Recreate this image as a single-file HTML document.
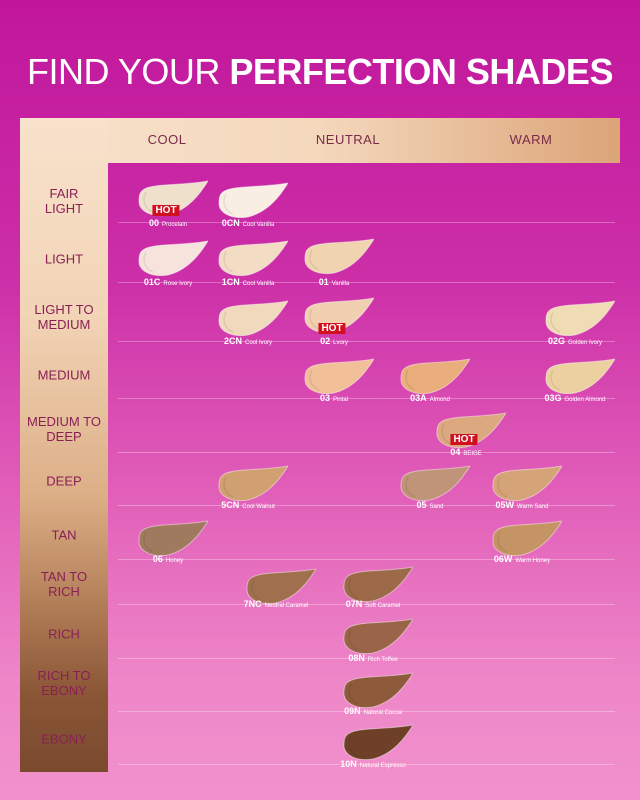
<!DOCTYPE html>
<html><head><meta charset="utf-8"><style>
*{margin:0;padding:0;box-sizing:border-box}
body{width:640px;height:800px;overflow:hidden;position:relative;font-family:"Liberation Sans",sans-serif;
background:linear-gradient(180deg,#c1169c 0%,#cc2fa8 35%,#e05cb8 60%,#ee86c8 85%,#f192cc 100%)}
.title{position:absolute;left:0;width:640px;top:51px;text-align:center;color:#fff;font-size:36px;letter-spacing:-0.5px;white-space:nowrap}
.title b{font-weight:bold}
.top{position:absolute;left:20px;top:118px;width:600px;height:45px;background:linear-gradient(90deg,#f8e2cc 0%,#f4d8bc 50%,#dca478 100%)}
.top span{position:absolute;top:14px;font-size:13px;color:#7a2a4a;letter-spacing:0.5px;transform:translateX(-50%)}
.left{position:absolute;left:20px;top:118px;width:88px;height:654px;background:linear-gradient(180deg,#f8e2cc 0%,#f2d4b6 30%,#dcae86 58%,#b07c56 75%,#8a5636 88%,#7a4a2e 100%)}
.rl{position:absolute;left:20px;width:88px;text-align:center;font-size:13px;line-height:15px;color:#8a1f55;transform:translateY(-50%)}
.line{position:absolute;left:118px;width:497px;height:1px;background:rgba(255,255,255,0.3)}
.sw{position:absolute;width:70px;height:38px}
.lab{position:absolute;color:#fff;white-space:nowrap;transform:translate(-50%,-50%);font-size:6px}
.lab b{font-size:9px;margin-right:3px}
.hot{position:absolute;background:#d01020;color:#fff;font-weight:bold;font-size:10px;line-height:11px;padding:0 3px;transform:translateX(-50%)}
</style></head><body>
<div class="title"><span style="font-weight:normal">FIND YOUR </span><b>PERFECTION SHADES</b></div>
<div class="top"><span style="left:147px">COOL</span><span style="left:328px">NEUTRAL</span><span style="left:511px">WARM</span></div>
<div class="left"></div>
<div class="rl" style="top:201px">FAIR<br>LIGHT</div>
<div class="rl" style="top:259px">LIGHT</div>
<div class="rl" style="top:317px">LIGHT TO<br>MEDIUM</div>
<div class="rl" style="top:375px">MEDIUM</div>
<div class="rl" style="top:429px">MEDIUM TO<br>DEEP</div>
<div class="rl" style="top:481px">DEEP</div>
<div class="rl" style="top:535px">TAN</div>
<div class="rl" style="top:584px">TAN TO<br>RICH</div>
<div class="rl" style="top:634px">RICH</div>
<div class="rl" style="top:683px">RICH TO<br>EBONY</div>
<div class="rl" style="top:739px">EBONY</div>
<div class="line" style="top:222px"></div><div class="line" style="top:282px"></div><div class="line" style="top:341px"></div>
<div class="line" style="top:398px"></div><div class="line" style="top:452px"></div><div class="line" style="top:505px"></div>
<div class="line" style="top:559px"></div><div class="line" style="top:604px"></div><div class="line" style="top:658px"></div>
<div class="line" style="top:711px"></div><div class="line" style="top:764px"></div>
<div id="s"></div>
<script>
var d=[
[138,180,'#efe0cc','00','Procelain',223,1],
[218,182,'#f8eee4','0CN','Cool Vanilla',223],
[138,240,'#f6e4dc','01C','Rose Ivory',282],
[218,240,'#f3dcc4','1CN','Cool Vanilla',282],
[304,238,'#f0d4b0','01','Vanilla',282],
[218,300,'#f0d9bc','2CN','Cool Ivory',341],
[304,297,'#f0d0b0','02','Lvory',341,1],
[545,300,'#f0dcb4','02G','Golden Ivory',341],
[304,358,'#f2c098','03','Pintal',398],
[400,358,'#e9ae7c','03A','Almond',398],
[545,358,'#ecd0a0','03G','Golden Almond',398],
[436,412,'#dba880','04','BEIGE',452,1],
[218,465,'#d0a070','5CN','Cool Walnut',505],
[400,465,'#c09478','05','Sand',505],
[492,465,'#d4a478','05W','Warm Sand',505],
[138,520,'#a07a5e','06','Honey',559],
[492,520,'#c49464','06W','Warm Honey',559],
[246,568,'#a0704e','7NC','Neutral Caramel',604],
[343,566,'#9c6a48','07N','Soft Caramel',604],
[343,618,'#9a6448','08N','Rich Toffee',658],
[343,672,'#8e5a3c','09N','Natural Cocoa',711],
[343,724,'#6e4028','10N','Natural Espresso',764]];
var h='';
d.forEach(function(a){
h+='<svg class="sw" style="left:'+a[0]+'px;top:'+a[1]+'px" viewBox="0 0 70 38"><path d="M5,10 C14,3 42,6 70,1 C62,14 50,30 30,35 C12,38 0,30 1,20 C1,15 2,12 5,10 Z" fill="'+a[2]+'" stroke="rgba(255,255,255,0.45)" stroke-width="1"/><path d="M8,12 C4,20 6,28 15,32" fill="none" stroke="rgba(0,0,0,0.08)" stroke-width="1.5"/></svg>';
var cx=a[0]+30;
h+='<div class="lab" style="left:'+cx+'px;top:'+a[5]+'px"><b>'+a[3]+'</b>'+a[4]+'</div>';
if(a[6])h+='<div class="hot" style="left:'+(cx-2)+'px;top:'+(a[5]-18)+'px">HOT</div>';
});
document.getElementById('s').innerHTML=h;
</script>
</body></html>
